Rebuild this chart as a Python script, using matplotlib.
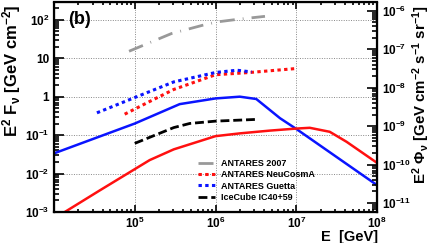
import numpy as np
import matplotlib
matplotlib.use('Agg')
import matplotlib.pyplot as plt
from matplotlib.ticker import FixedLocator, LogLocator, NullFormatter

plt.rcParams['font.family'] = 'Liberation Sans'
plt.rcParams['font.weight'] = 'bold'
plt.rcParams['mathtext.fontset'] = 'custom'
plt.rcParams['mathtext.rm'] = 'Liberation Sans:bold'
plt.rcParams['mathtext.it'] = 'Liberation Sans:bold'
plt.rcParams['mathtext.bf'] = 'Liberation Sans:bold'
plt.rcParams['mathtext.default'] = 'bf'

# data (E in GeV, E^2 F in GeV cm^-2)
E_blue = [1e4, 1e5, 3.6e5, 1.0e6, 2.0e6, 3.2e6, 6.3e6, 1.0e7, 1e8]
F_blue = [0.0335, 0.20, 0.64, 0.90, 1.0, 0.87, 0.275, 0.145, 0.005]

E_red = [1e4, 1.36e4, 3.7e4, 1.53e5, 3.04e5, 1.0e6, 2.0e6, 4.7e6, 1.0e7, 1.47e7, 2.6e7, 4.2e7, 6.7e7, 1e8]
F_red = [6.8e-4, 1e-3, 3.66e-3, 0.0224, 0.0426, 0.094, 0.111, 0.131, 0.148, 0.155, 0.122, 0.067, 0.034, 0.019]

E_a07 = [8.5e4, 2.85e5, 6.9e5, 1.03e6, 1.89e6, 4.1e6]
F_a07 = [15.2, 43.9, 71.9, 87.7, 103, 123]

E_neu = [7.5e4, 1.53e5, 3.04e5, 1.0e6, 2.66e6, 1.0e7]
F_neu = [0.35, 0.75, 1.54, 3.72, 4.26, 5.4]

E_gue = [3.4e4, 1e5, 3.04e5, 1.0e6, 1.84e6, 2.8e6]
F_gue = [0.38, 0.95, 2.42, 4.26, 4.88, 4.4]

E_ic = [1e5, 3.04e5, 4.8e5, 1.0e6, 3.16e6]
F_ic = [0.061, 0.157, 0.201, 0.231, 0.256]

labels = ['ANTARES 2007', 'ANTARES NeuCosmA', 'ANTARES Guetta', 'IceCube IC40+59']

conv = 10**-8.234   # right axis / left axis

fig = plt.figure(figsize=(4.32, 2.43), dpi=100)
ax = fig.add_axes([54/432, 1-212/243, (377-54)/432, (212-2.5)/243])
ax.set_xscale('log')
ax.set_yscale('log')
ax.set_xlim(1e4, 1e8)
ax.set_ylim(1e-3, 10**2.45)

ax.plot(E_blue, F_blue, color='#0a14ff', lw=1.8, solid_joinstyle='miter')
ax.plot(E_red, F_red, color='#ff1010', lw=1.8)
l1, = ax.plot(E_a07, F_a07, color='#999999', lw=2, dashes=(5.4, 2.9, 0.3, 2.9))
l2, = ax.plot(E_neu, F_neu, color='#ff1010', lw=2.2, dashes=(1.1, 1.1))
l3, = ax.plot(E_gue, F_gue, color='#0a14ff', lw=2.2, dashes=(1.1, 1.1))
l4, = ax.plot(E_ic, F_ic, color='black', lw=2, dashes=(3.2, 1.4))

for v in [1e5, 1e6, 1e7]:
    ax.axvline(v, color='#888888', lw=0.7, ls=(0, (1, 1.5)), zorder=0)
for v in [1e-2, 1e-1, 1, 10, 100]:
    ax.axhline(v, color='#888888', lw=0.7, ls=(0, (1, 1.5)), zorder=0)

ax.xaxis.set_major_locator(FixedLocator([1e5, 1e6, 1e7, 1e8]))
ax.set_xticklabels([r'$10^{5}$', r'$10^{6}$', r'$10^{7}$', r'$10^{8}$'])
ax.xaxis.set_minor_locator(LogLocator(base=10, subs=np.arange(2, 10), numticks=20))
ax.xaxis.set_minor_formatter(NullFormatter())
ax.yaxis.set_major_locator(FixedLocator([1e-3, 1e-2, 1e-1, 1, 10, 100]))
ax.set_yticklabels([r'$10^{-3}$', r'$10^{-2}$', r'$10^{-1}$', '1', '10', r'$10^{2}$'])
ax.yaxis.set_minor_locator(LogLocator(base=10, subs=np.arange(2, 10), numticks=20))
ax.yaxis.set_minor_formatter(NullFormatter())
ax.tick_params(which='both', direction='in', top=True, right=False, labelsize=8.5, width=1.2)
ax.tick_params(axis='y', which='major', length=7)
ax.tick_params(axis='y', which='minor', length=3.5)
ax.tick_params(axis='x', which='major', length=5, pad=3)
ax.tick_params(axis='x', which='minor', length=2.5)
for s in ax.spines.values():
    s.set_linewidth(1.6)

ax2 = ax.twinx()
ax2.set_yscale('log')
ax2.set_ylim(1e-3*conv, 10**2.45*conv)
ax2.yaxis.set_major_locator(FixedLocator([1e-11, 1e-10, 1e-9, 1e-8, 1e-7, 1e-6]))
ax2.set_yticklabels([r'$10^{-11}$', r'$10^{-10}$', r'$10^{-9}$', r'$10^{-8}$', r'$10^{-7}$', r'$10^{-6}$'])
ax2.yaxis.set_minor_locator(LogLocator(base=10, subs=np.arange(2, 10), numticks=20))
ax2.yaxis.set_minor_formatter(NullFormatter())
ax2.tick_params(which='both', direction='in', labelsize=8.5, width=1.2)
ax2.tick_params(which='major', length=7)
ax2.tick_params(which='minor', length=3.5)

ax.text((68-54)/323, 1-(20-2.5)/209.5, '(b)', transform=ax.transAxes, fontsize=13,
        fontweight='bold', va='center')

fig.text(12/432, 1-4/243, r'E$^{2}$ F$_{\nu}$ [GeV cm$^{-2}$]', rotation=90,
         ha='center', va='top', fontsize=12, fontweight='bold')
fig.text(421/432, 1-5/243, r'E$^{2}$ $\Phi_{\nu}$ [GeV cm$^{-2}$ s$^{-1}$ sr$^{-1}$]', rotation=90,
         ha='center', va='top', fontsize=10.8, fontweight='bold')
fig.text(378/432, 1-237/243, 'E  [GeV]', ha='right', va='center', fontsize=10.5, fontweight='bold')

ax.legend([l1, l2, l3, l4], labels, loc='upper left', bbox_to_anchor=(198/432, 1-159/243),
          bbox_transform=fig.transFigure, frameon=False, handlelength=1.9,
          handletextpad=0.7, labelspacing=0.25, borderpad=0, borderaxespad=0,
          prop={'weight': 'bold', 'size': 6.5})

fig.savefig('out.png', dpi=100)
